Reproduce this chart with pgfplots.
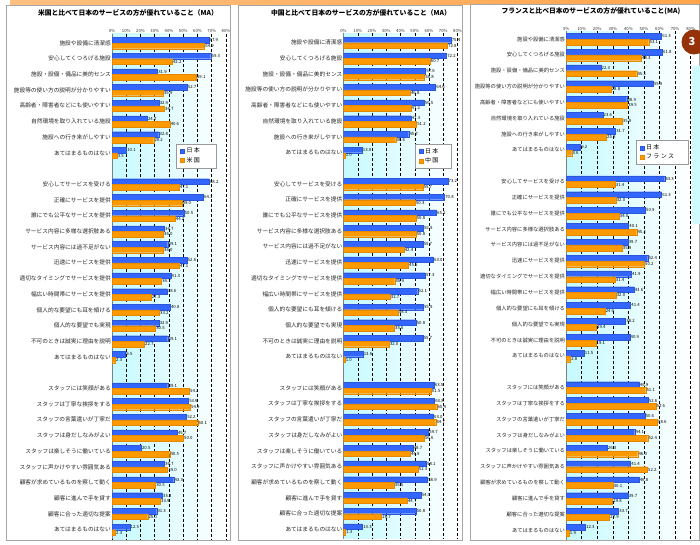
\documentclass[border=0pt]{standalone}
\usepackage{fontspec}
\setmainfont{Noto Sans CJK JP}
\usepackage{pgfplots}
\usepackage{pgfplotstable}
\pgfplotsset{compat=1.18}
\definecolor{jpblue}{RGB}{51,102,255}
\definecolor{fgorange}{RGB}{255,153,0}
\definecolor{bgcyan}{RGB}{196,250,255}
\definecolor{brn}{RGB}{150,50,10}

\pgfplotstableread{
y jp ot
0 67.9 64.9
1 69.3 42.2
2 31.9 59.1
3 52.7 35.9
4 32.9 36.7
5 24.7 40.6
6 32.8 29.2
7 10.1 3.5
9 68.2 47.1
10 64.1 49.0
11 50.5 44.2
12 36.7 36.0
13 39.1 36.0
14 52.6 47.1
15 41.3 34.7
16 38.6 27.3
17 40.8 33.2
18 32.9 30.5
19 39.1 22.7
20 9.5 2.3
22 39.1 54.2
23 53.6 54.9
24 52.2 60.1
25 45.7 50.0
26 20.5 40.5
27 36.7 39.0
28 43.3 30.5
29 35.3 33.9
30 31.3 25.0
31 12.5 2.3
}\tabUS

\pgfplotstableread{
y jp ot
0 75.4 72.8
1 72.2 60.7
2 57.6 56.8
3 64.6 46.8
4 56.5 47.2
5 47.3 51.2
6 45.7 36.6
7 13.0 1.0
9 73.2 55.7
10 70.8 50.3
11 65.1 50.8
12 55.9 50.8
13 55.7 42.4
14 63.0 45.5
15 57.3 35.9
16 52.1 32.7
17 55.9 38.3
18 50.8 35.6
19 55.7 32.0
20 13.6 1.0
22 63.5 61.5
23 63.8 65.4
24 63.0 64.7
25 59.7 56.6
26 48.7 46.9
27 58.1 52.3
28 58.9 35.5
29 54.3 44.7
30 50.8 26.7
31 13.3 1.3
}\tabCN

\pgfplotstableread{
y jp ot
0 61.3 53.1
1 61.8 48.3
2 22.3 45.3
3 55.9 28.8
4 38.9 39.5
5 23.6 35.9
6 31.7 25.8
7 9.2 3.6
9 63.3 31.4
10 61.3 32.0
11 50.9 34.0
12 40.1 45.3
13 39.7 35.9
14 52.4 50.2
15 41.9 31.4
16 43.6 32.0
17 41.4 24.9
18 38.2 19.4
19 40.9 19.1
20 11.5 2.8
22 46.9 51.1
23 52.6 57.6
24 50.6 58.6
25 44.1 52.4
26 26.3 46.0
27 41.4 52.2
28 46.8 30.1
29 39.7 29.8
30 33.7 27.9
31 12.3 1.9
}\tabFR

\pgfplotsset{
  /pgf/number format/assume math mode=true,
  panel/.style={
    xbar, scale only axis,
    xmin=0, xmax=80,
    ymax=31.6,
    y dir=reverse,
    axis line style={draw=none},
    axis background/.style={left color=bgcyan, right color=white},
    xtick={0,10,...,80},
    xticklabel={\pgfmathprintnumber{\tick}\%},
    xticklabel pos=upper,
    x tick label style={font=\fontsize{4.2}{5}\selectfont, inner sep=0.5pt, text=black!80},
    grid=major,
    ymajorgrids=false,
    major grid style={black, line width=0.5pt, dash pattern=on 3pt off 2pt},
    major tick length=0pt,
    extra x ticks={0},
    extra x tick labels={},
    extra x tick style={grid=major, major grid style={solid, gray, line width=0.6pt}},
    ytick={0,1,2,3,4,5,6,7,9,10,11,12,13,14,15,16,17,18,19,20,22,23,24,25,26,27,28,29,30,31},
    yticklabels={施設や設備に清潔感,安心してくつろげる施設,施設・設備・備品に美的センス,施設等の使い方の説明が分かりやすい,高齢者・障害者などにも使いやすい,自然環境を取り入れている施設,施設への行き来がしやすい,あてはまるものはない,
      安心してサービスを受ける,正確にサービスを提供,誰にでも公平なサービスを提供,サービス内容に多様な選択肢ある,サービス内容には過不足がない,迅速にサービスを提供,適切なタイミングでサービスを提供,幅広い時間帯にサービスを提供,個人的な要望にも耳を傾ける,個人的な要望でも実現,不可のときは誠実に理由を説明,あてはまるものはない,
      スタッフには笑顔がある,スタッフは丁寧な挨拶をする,スタッフの言葉遣いが丁寧だ,スタッフは身だしなみがよい,スタッフは楽しそうに働いている,スタッフに声かけやすい雰囲気ある,顧客が求めているものを察して動く,顧客に進んで手を貸す,顧客に合った適切な提案,あてはまるものはない},
    y tick label style={font=\fontsize{5.7}{6}\selectfont, text=black!85, inner sep=1pt},
    bar width=5.6pt,
    nodes near coords={\pgfmathprintnumber[fixed,fixed zerofill,precision=1]{\pgfplotspointmeta}},
    point meta=x,
    every node near coord/.append style={font=\fontsize{4.3}{5}\selectfont, text=black, inner sep=0.8pt},
    legend image code/.code={\fill[##1] (0pt,-2pt) rectangle (4pt,2pt);},
    legend style={draw=gray!80, font=\fontsize{6}{7}\selectfont, inner xsep=4pt, inner ysep=2pt, row sep=-1pt, cells={anchor=west}, fill=white},
  },
  jp/.style={fill=jpblue, draw=jpblue!85!black, line width=0.2pt, bar shift=2.8pt},
  ot/.style={fill=fgorange, draw=fgorange!90!black, line width=0.2pt, bar shift=-2.8pt},
}

\begin{document}
\begin{tikzpicture}
\path[use as bounding box] (0pt,0pt) rectangle (700pt,544pt);
\clip (0pt,0pt) rectangle (700pt,544pt);
% header strip
\fill[left color=orange!50, right color=orange!70] (10pt,539.5pt) rectangle (700pt,544pt);
% frames
\draw[gray!70, line width=0.8pt] (6pt,4pt) rectangle (230pt,539pt);
\draw[gray!70, line width=0.8pt] (238pt,4pt) rectangle (462pt,539pt);
\draw[gray!70, line width=0.8pt] (470pt,4pt) rectangle (699pt,540pt);
% titles
\node[font=\bfseries\fontsize{6.8}{7}\selectfont] at (128pt,531pt) {米国と比べて日本のサービスの方が優れていること（MA）};
\node[font=\bfseries\fontsize{6.8}{7}\selectfont] at (361pt,531.5pt) {中国と比べて日本のサービスの方が優れていること（MA）};
\node[font=\bfseries\fontsize{6.8}{7}\selectfont] at (591pt,533pt) {フランスと比べ日本のサービスの方が優れていること(MA)};

\begin{axis}[panel, at={(112pt,510.4pt)}, anchor=north west, width=114pt, height=505.5pt, ymin=-0.6,
  legend style={at={(axis cs:45,7.96)}, anchor=south west}]
\addplot[jp] table[x=jp,y=y]{\tabUS};
\addplot[ot] table[x=ot,y=y]{\tabUS};
\legend{\makebox[24pt][l]{日 本},\makebox[24pt][l]{米 国}}
\end{axis}

\begin{axis}[panel, at={(343.5pt,510.7pt)}, anchor=north west, width=114pt, height=505.5pt, ymin=-0.6,
  legend style={at={(axis cs:50,8.0)}, anchor=south west}]
\addplot[jp] table[x=jp,y=y]{\tabCN};
\addplot[ot] table[x=ot,y=y]{\tabCN};
\legend{\makebox[20pt][l]{日 本},\makebox[20pt][l]{中 国}}
\end{axis}

\begin{axis}[panel, at={(566.1pt,512.9pt)}, anchor=north west, width=124.5pt, height=508.5pt, ymin=-0.5,
  bar width=5.8pt,
  y tick label style={font=\fontsize{5.3}{6}\selectfont},
  legend style={at={(axis cs:44.7,7.9)}, anchor=south west}]
\addplot[jp, bar shift=2.9pt] table[x=jp,y=y]{\tabFR};
\addplot[ot, bar shift=-2.9pt] table[x=ot,y=y]{\tabFR};
\legend{\makebox[36pt][l]{日 本},\makebox[36pt][l]{フ ラ ン ス}}
\end{axis}

% decorations at right edge
\fill[bgcyan!80, rounded corners=3pt] (692pt,320pt) rectangle (706pt,478pt);
\fill[brn] (694pt,502pt) circle (12.5pt);
\node[text=white, font=\bfseries\fontsize{11}{12}\selectfont] at (692pt,502pt) {3};
\end{tikzpicture}
\end{document}
